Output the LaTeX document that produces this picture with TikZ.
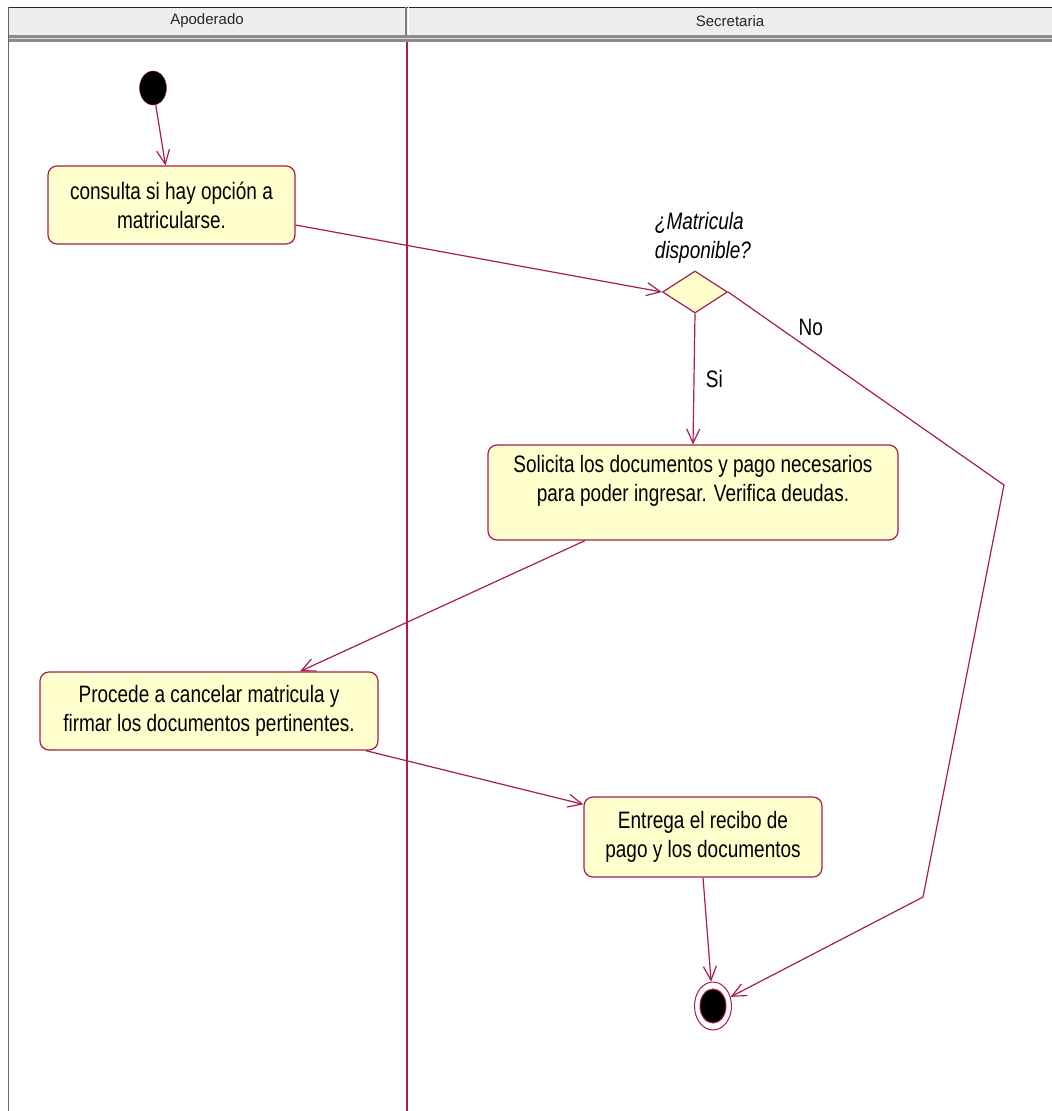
\documentclass[tikz,border=0pt]{standalone}
\usepackage{fontspec}
\setmainfont[FakeStretch=0.8]{Liberation Sans}
\newfontfamily\lanefont{Liberation Sans}
\usetikzlibrary{shapes.geometric,arrows.meta}
\definecolor{umlred}{RGB}{168,28,78}
\definecolor{umlfill}{RGB}{255,255,206}
\definecolor{headgray}{RGB}{238,238,238}
\tikzset{%
  actnode/.style  = {shape=rectangle, rounded corners=9pt,%
                     draw=umlred, line width=1.2pt, fill=umlfill,%
                     align=center, inner sep=0pt},%
  decnode/.style  = {shape=diamond, draw=umlred, line width=1.2pt,%
                     fill=umlfill, inner sep=0pt,%
                     minimum width=65pt, minimum height=42pt},%
  initnode/.style = {shape=ellipse, draw=umlred, fill=black, inner sep=0pt,%
                     minimum width=27pt, minimum height=34pt},%
  endnode/.style  = {shape=ellipse, draw=umlred, line width=1pt, fill=white,%
                     inner sep=0pt, minimum width=37pt, minimum height=48pt,%
                     path picture={\filldraw[fill=black,draw=umlred]
                       (path picture bounding box.center)
                       ellipse [x radius=13pt, y radius=17pt];}},%
  flow/.style     = {draw=umlred, line width=1.2pt,%
                     -{Straight Barb[length=14pt,width=13pt]}},%
  lanehead/.style = {font=\lanefont\fontsize{15}{17}\selectfont, text=black!85}%
}

\begin{document}
\begin{tikzpicture}[x=1pt,y=-1pt,
every node/.style = {font=\fontsize{23.75}{29}\selectfont}]
	\useasboundingbox (0,0) rectangle (1052,1111);
	% swimlane header
	\fill[headgray] (8,7) rectangle (1052,35);
	\fill[black!45] (8,35) rectangle (1052,42);
	\draw[black!15, line width=1.5pt] (8,38.5) -- (1052,38.5);
	\draw[black!85] (8,7) -- (1052,7);
	\draw[black!50, line width=2pt] (406,7) -- (406,35);
	\draw[white, line width=1pt] (408.5,7) -- (408.5,35);
	\draw[black!60, line width=1pt] (8,7) -- (8,1111);
	\draw[umlred, line width=1.4pt] (407,42) -- (407,1111);
	\node[lanehead] (apod) at (207,21) {Apoderado};
	\node[lanehead] (secr) at (730,21) {Secretaria};
	% nodes
	\node[initnode] (init) at (153,88) {};
	\node[actnode, minimum width=247pt, minimum height=78pt] (consulta) at (171.5,205)
		{consulta si hay opción a\\matricularse.};
	\node[decnode] (decision) at (695,292) {};
	\node[align=left, font=\itshape\fontsize{23.75}{29}\selectfont] (declbl) at (703,238)
		{¿Matricula\\disponible?};
	\node[actnode, minimum width=410pt, minimum height=95pt] (solicita) at (693,492.5)
		{Solicita los documentos y pago necesarios\\para poder ingresar. Verifica deudas.\\ \mbox{}};
	\node[actnode, minimum width=338pt, minimum height=78pt] (procede) at (209,711)
		{Procede a cancelar matricula y\\firmar los documentos pertinentes.};
	\node[actnode, minimum width=238pt, minimum height=80pt] (entrega) at (703,837)
		{Entrega el recibo de\\pago y los documentos};
	\node[endnode] (final) at (713,1006) {};
	\coordinate (nobend1) at (1004,485);
	\coordinate (nobend2) at (923,897);
	% transitions
	\draw[flow] (init) -- ([xshift=-6pt]consulta.north);
	\draw[flow] ([yshift=-20pt]consulta.east) -- (decision.west);
	\draw[flow] (decision.south) -- node[right, xshift=8pt] {Si} (solicita.north);
	\draw[flow] (decision.east) -- node[above, pos=0.3, yshift=10pt] {No} (nobend1)
		-- (nobend2) -- (final);
	\draw[flow] ([xshift=-108pt]solicita.south) -- ([xshift=91pt]procede.north);
	\draw[flow] ([xshift=-13pt]procede.south east) -- ([yshift=-8pt]entrega.north west);
	\draw[flow] (entrega.south) -- (final);
\end{tikzpicture}
\end{document}
